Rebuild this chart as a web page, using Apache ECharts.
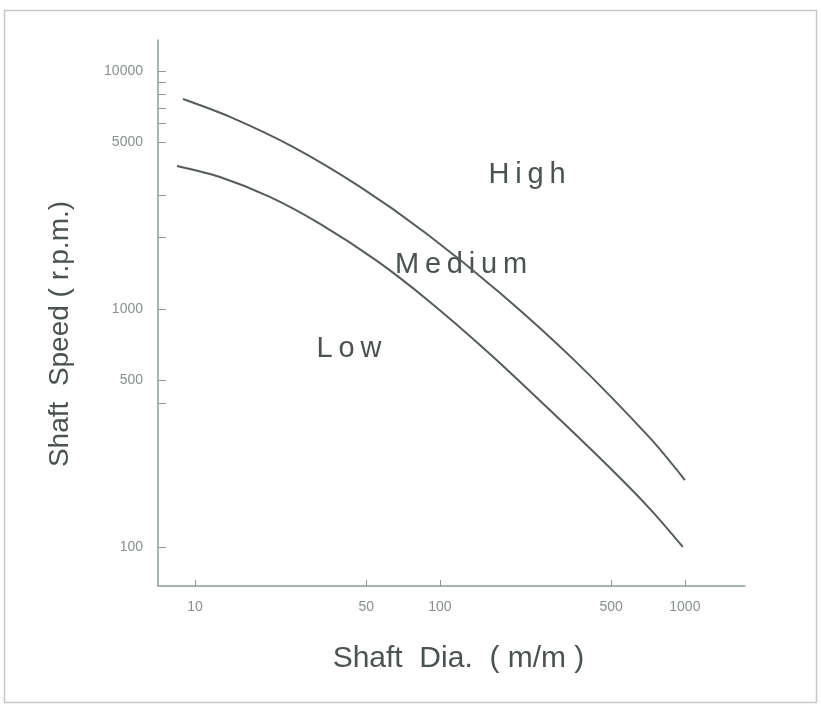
<!DOCTYPE html>
<html>
<head>
<meta charset="utf-8">
<title>Shaft Speed vs Shaft Dia.</title>
<script src="https://cdn.jsdelivr.net/npm/echarts@6/dist/echarts.min.js"></script>
<style>
html, body { margin: 0; padding: 0; background: #ffffff; }
#chart { width: 821px; height: 708px; }
</style>
</head>
<body>
<div id="chart"></div>
<script>
// Boundary curves (shaft dia in m/m, shaft speed in r.p.m.)
var upperDia = [8.93, 13.9, 25.1, 47.2, 88.5, 176, 356, 720, 1000];
var upperSpeed = [7620, 6410, 4795, 3255, 2066, 1167, 605, 287, 191];
var lowerDia = [8.44, 12.65, 20.2, 32.4, 55.3, 91, 160, 281, 494, 720, 981];
var lowerSpeed = [3990, 3585, 2955, 2276, 1591, 1070, 647, 376, 215, 144.5, 100];

// Tick labels
var xLabels = [10, 50, 100, 500, 1000];
var yLabels = [100, 500, 1000, 5000, 10000];
var yTicks = [100, 400, 500, 1000, 2000, 3000, 5000, 6000, 7000, 8000, 9000, 10000];

// Zone names
var zoneNames = ['High', 'Medium', 'Low'];

var axisColor = '#8e9a9a';
var inkColor = '#4c5252';
var fontName = '"Liberation Sans", Arial, sans-serif';

var pairUp = function(xs, ys) {
    var out = [];
    for (var i = 0; i < xs.length; i++) {
        out.push([xs[i], ys[i]]);
    }
    return out;
};

// spread letters a bit, the scan has wide letter spacing
var spaced = function(text) {
    return text.split('').join('\u2009');
};

var chart = echarts.init(document.getElementById('chart'));

var chartSettings = {
    backgroundColor: '#ffffff',
    animation: false,
    grid: {
        left: 158,
        right: 76,
        top: 40,
        bottom: 122
    },
    xAxis: {
        type: 'log',
        min: 7.06,
        max: 1760,
        name: 'Shaft  Dia.  ( m/m )',
        nameLocation: 'middle',
        nameGap: 58,
        nameTextStyle: { color: inkColor, fontSize: 30, fontFamily: fontName, padding: [0, 0, 0, 14] },
        axisLine: { lineStyle: { color: axisColor, width: 1.5 } },
        axisTick: { inside: true, length: 6, customValues: xLabels, lineStyle: { color: axisColor } },
        axisLabel: {
            customValues: xLabels,
            color: '#8a8f8f',
            fontSize: 14,
            fontFamily: fontName,
            margin: 14,
            formatter: function(v) { return String(Math.round(v)); }
        },
        splitLine: { show: false }
    },
    yAxis: {
        type: 'log',
        min: 68.5,
        max: 13490,
        name: 'Shaft  Speed ( r.p.m.)',
        nameLocation: 'middle',
        nameGap: 84,
        nameTextStyle: { color: inkColor, fontSize: 28, fontFamily: fontName, padding: [0, 42, 0, 0] },
        axisLine: { lineStyle: { color: axisColor, width: 1.5 } },
        axisTick: { inside: true, length: 8, customValues: yTicks, lineStyle: { color: axisColor } },
        axisLabel: {
            customValues: yLabels,
            color: '#8a8f8f',
            fontSize: 14,
            fontFamily: fontName,
            margin: 15,
            formatter: function(v) { return String(Math.round(v)); }
        },
        splitLine: { show: false }
    },
    series: [
        {
            name: 'upper',
            type: 'line',
            data: pairUp(upperDia, upperSpeed),
            smooth: 0.3,
            showSymbol: false,
            lineStyle: { color: '#565c5c', width: 2 }
        },
        {
            name: 'lower',
            type: 'line',
            data: pairUp(lowerDia, lowerSpeed),
            smooth: 0.3,
            showSymbol: false,
            lineStyle: { color: '#565c5c', width: 2 }
        }
    ],
    graphic: [
        {
            type: 'rect',
            shape: { x: 4.5, y: 10.5, width: 812, height: 692 },
            style: { fill: null, stroke: '#c4c8c8', lineWidth: 1.5 },
            silent: true
        },
        {
            type: 'text',
            x: 527, y: 175,
            style: { text: spaced(zoneNames[0]), fill: inkColor, fontSize: 29, fontFamily: fontName, align: 'center', verticalAlign: 'middle' }
        },
        {
            type: 'text',
            x: 461, y: 265,
            style: { text: spaced(zoneNames[1]), fill: inkColor, fontSize: 29, fontFamily: fontName, align: 'center', verticalAlign: 'middle' }
        },
        {
            type: 'text',
            x: 349, y: 349,
            style: { text: spaced(zoneNames[2]), fill: inkColor, fontSize: 29, fontFamily: fontName, align: 'center', verticalAlign: 'middle' }
        }
    ]
};

chart.setOption(chartSettings);
</script>
</body>
</html>
